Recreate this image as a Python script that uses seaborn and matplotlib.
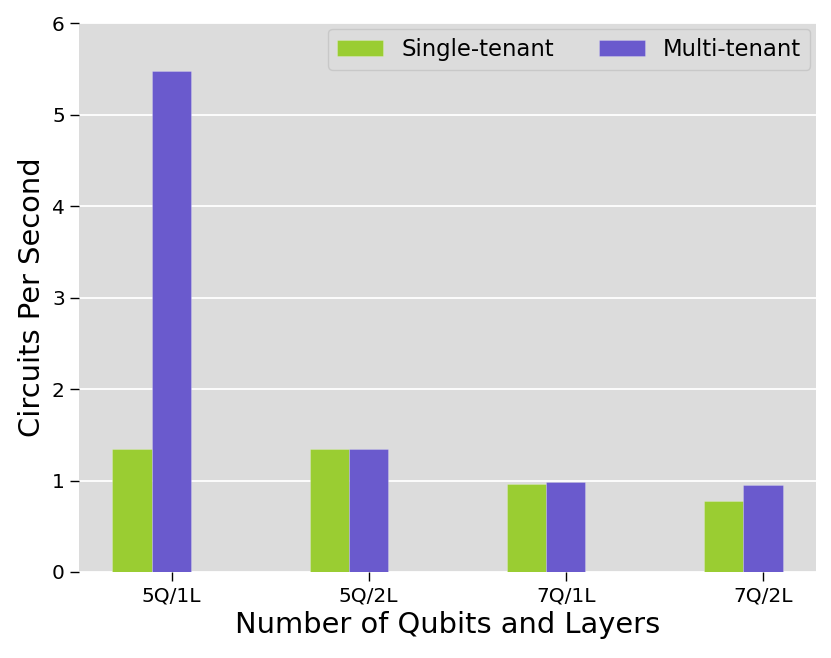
import matplotlib
matplotlib.use("Agg")
import matplotlib.pyplot as plt
import seaborn as sns
import pandas as pd

categories = ["5Q/1L", "5Q/2L", "7Q/1L", "7Q/2L"]
single_tenant = [1.343, 1.343, 0.964, 0.78]
multi_tenant = [5.48, 1.343, 0.982, 0.956]
series_names = ["Single-tenant", "Multi-tenant"]
colors = ["#9acd32", "#6a5acd"]

df = pd.DataFrame({
    "config": categories * 2,
    "value": single_tenant + multi_tenant,
    "tenant": [series_names[0]] * len(categories) + [series_names[1]] * len(categories),
})

plt.rcParams['font.family'] = ['DejaVu Sans']
fig = plt.figure(figsize=(8.31, 6.58), dpi=100)
ax = fig.add_axes([0.095, 0.1307, 0.887, 0.8343])
ax.set_facecolor("#dcdcdc")
ax.set_axisbelow(True)
ax.yaxis.grid(True, color="white", linewidth=1.3)

sns.barplot(data=df, x="config", y="value", hue="tenant", hue_order=series_names,
            palette=colors, width=0.4, saturation=1, ax=ax,
            edgecolor="#ffffff40", linewidth=0.6)

for s in ax.spines.values():
    s.set_visible(False)

ax.set_xlim(-0.37, 3.37)
ax.set_ylim(0, 6)
ax.set_xticks([i + 0.1 for i in range(len(categories))])
ax.set_xticklabels(categories)
ax.set_yticks([0, 1, 2, 3, 4, 5, 6])
ax.tick_params(axis="both", labelsize=14.5, length=6.7, width=1.0, color="black")
ax.set_xlabel("Number of Qubits and Layers", fontsize=20.8)
ax.set_ylabel("Circuits Per Second", fontsize=20.8)

leg = ax.legend(loc="upper right", ncol=2, fontsize=16.4, frameon=True,
                facecolor="#dcdcdc", edgecolor="#c8c8c8", framealpha=1,
                borderaxespad=0.25, title=None)

fig.savefig("out.png", dpi=100)
